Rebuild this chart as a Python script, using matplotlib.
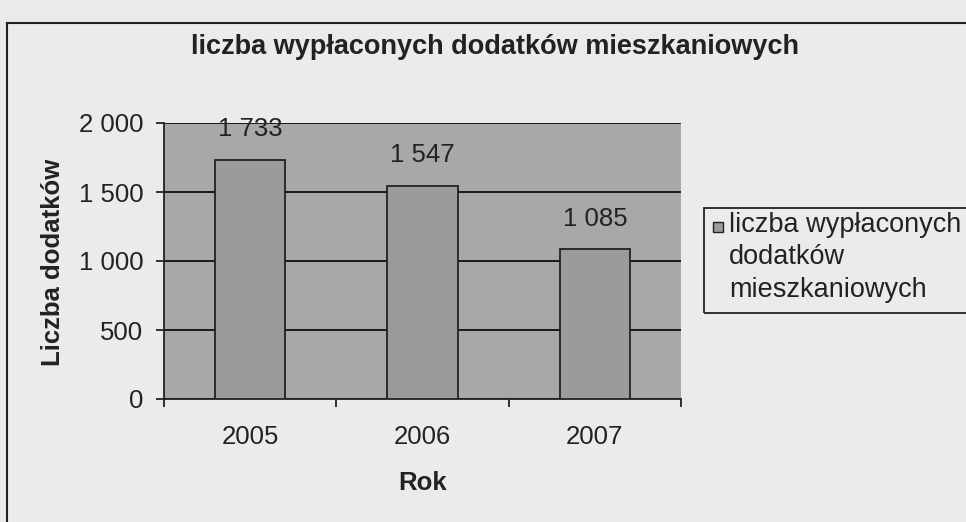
import matplotlib
matplotlib.use("Agg")
import matplotlib.pyplot as plt
from matplotlib.ticker import FuncFormatter
from matplotlib.patches import Rectangle
from matplotlib.lines import Line2D

plt.rcParams['font.family'] = ['Liberation Sans', 'DejaVu Sans']

# data
years = ['2005', '2006', '2007']
counts = [1733, 1547, 1085]
yticks = [0, 500, 1000, 1500, 2000]
title = 'liczba wypłaconych dodatków mieszkaniowych'
legend_label = 'liczba wypłaconych\ndodatków\nmieszkaniowych'

W, H = 966, 522
bg = '#ebebea'
plot_bg = '#a8a8a8'
bar_col = '#9b9b9b'


def spaced(v, pos=None):
    return f'{v:,.0f}'.replace(',', ' ')


fig = plt.figure(figsize=(W / 100, H / 100), dpi=100, facecolor=bg)
ax = fig.add_axes([164 / W, 1 - 399 / H, 517 / W, 276 / H])
ax.set_facecolor(plot_bg)

x = range(len(years))
bars = ax.bar(x, counts, width=0.41, color=bar_col, edgecolor='#222222',
              linewidth=1.3, zorder=3)
for b, v in zip(bars, counts):
    ax.annotate(spaced(v), (b.get_x() + b.get_width() / 2, v),
                xytext=(0, 22), textcoords='offset points',
                ha='center', va='center', fontsize=18.5, color='#222222')

ax.set_xlim(-0.5, len(years) - 0.5)
ax.set_ylim(0, 2000)
ax.set_yticks(yticks)
ax.yaxis.set_major_formatter(FuncFormatter(spaced))
ax.set_xticks([i - 0.5 for i in range(len(years) + 1)], minor=False)
ax.set_xticklabels([])
ax.set_xticks(list(x), minor=True)
ax.set_xticklabels(years, minor=True)
ax.tick_params(axis='x', which='major', direction='out', length=6, width=1.3,
               color='#222222')
ax.tick_params(axis='x', which='minor', length=0, pad=19, labelsize=18.5,
               labelcolor='#222222')
ax.tick_params(axis='y', direction='out', length=6, width=1.3, pad=9,
               labelsize=18.5, color='#222222', labelcolor='#222222')

ax.grid(axis='y', color='#1a1a1a', linewidth=1.4, zorder=1)
ax.set_axisbelow(True)
for s in ['top', 'right']:
    ax.spines[s].set_visible(False)
for s in ['left', 'bottom']:
    ax.spines[s].set_color('#222222')
    ax.spines[s].set_linewidth(1.3)

fig.text(495 / W, 1 - 47 / H, title, ha='center', va='center',
         fontsize=19.5, fontweight='bold', color='#222222')
fig.text(53 / W, 1 - 262 / H, 'Liczba dodatków', rotation=90,
         ha='center', va='center', fontsize=18.5, fontweight='bold',
         color='#222222')
fig.text(423 / W, 1 - 483 / H, 'Rok', ha='center', va='center',
         fontsize=18.5, fontweight='bold', color='#222222')

# legend box (runs off the right edge as in the scan)
fig.add_artist(Rectangle((704 / W, 1 - 313 / H), 300 / W, 105 / H,
                         transform=fig.transFigure, facecolor='none',
                         edgecolor='#222222', linewidth=1.3))
fig.add_artist(Rectangle((713 / W, 1 - 232 / H), 10 / W, 10 / H,
                         transform=fig.transFigure, facecolor=bar_col,
                         edgecolor='#222222', linewidth=1.0))
fig.text(729 / W, 1 - 212 / H, legend_label, ha='left', va='top',
         fontsize=19.5, color='#222222', linespacing=1.32)

# page frame
fig.add_artist(Line2D([7 / W, 1], [1 - 23 / H, 1 - 23 / H],
                      transform=fig.transFigure, color='#222222', lw=1.5))
fig.add_artist(Line2D([7 / W, 7 / W], [0, 1 - 23 / H],
                      transform=fig.transFigure, color='#222222', lw=1.5))

fig.savefig('out.png', dpi=100, facecolor=bg)
